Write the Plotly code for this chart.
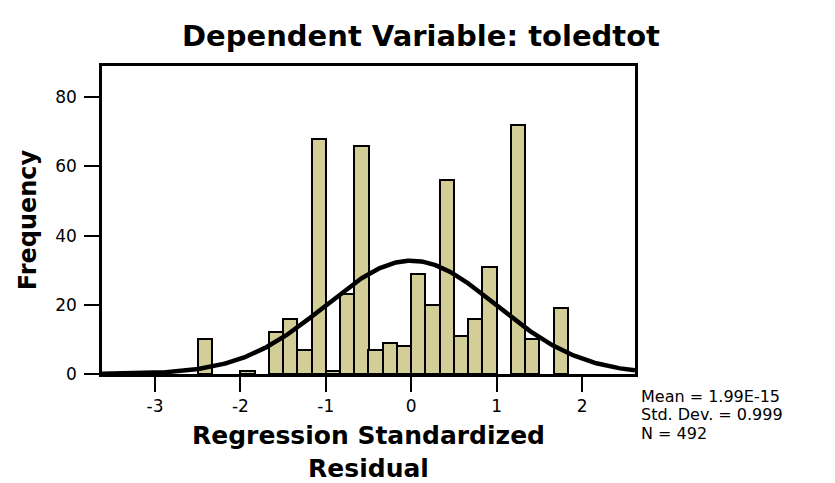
import numpy as np
import plotly.graph_objects as go

# ---- data ----
bin_centers = [-2.417, -1.917, -1.583, -1.417, -1.25, -1.083, -0.917, -0.75, -0.583,
               -0.417, -0.25, -0.083, 0.083, 0.25, 0.417, 0.583, 0.75, 0.917,
               1.25, 1.417, 1.75]
counts = [10, 1, 12, 16, 7, 68, 1, 23, 66,
          7, 9, 8, 29, 20, 56, 11, 16, 31,
          72, 10, 19]
bin_width = 1 / 6
stat_mean = 1.99e-15
stat_sd = 0.999
stat_n = 492
x_tickvals = [-3, -2, -1, 0, 1, 2]
x_ticktext = ["-3", "-2", "-1", "0", "1", "2"]
y_tickvals = [0, 20, 40, 60, 80]
stats_lines = ["Mean = 1.99E-15", "Std. Dev. = 0.999", "N = 492"]

# ---- layout constants ----
W, H = 835, 483
ML, MR, MT, MB = 102, 200, 66, 109
PW, PH = W - ML - MR, H - MT - MB
XR = [-3.62, 2.62]
YR = [0, 89]
FONT = "DejaVu Sans"


def px_to_paper(px, py):
    return (px - ML) / PW, (H - MB - py) / PH


# normal curve from the reported statistics
xc = np.linspace(XR[0], XR[1], 400)
yc = stat_n * bin_width * np.exp(-0.5 * ((xc - stat_mean) / stat_sd) ** 2) / (stat_sd * np.sqrt(2 * np.pi))

fig = go.Figure()
fig.add_trace(go.Bar(
    x=bin_centers, y=counts, width=bin_width,
    marker=dict(color="#D3CE97", line=dict(color="black", width=2)),
    showlegend=False, hoverinfo="x+y",
))
fig.add_trace(go.Scatter(
    x=xc, y=yc, mode="lines",
    line=dict(color="black", width=4.5),
    showlegend=False, hoverinfo="skip",
))

axis_common = dict(
    showline=True, linecolor="black", linewidth=2.5, mirror=True,
    ticks="outside", ticklen=15, tickwidth=2, tickcolor="black",
    showgrid=False, zeroline=False, automargin=False,
    tickfont=dict(family=FONT, size=17, color="black"),
)

fig.update_layout(
    width=W, height=H,
    margin=dict(l=ML, r=MR, t=MT, b=MB),
    paper_bgcolor="white", plot_bgcolor="white",
    bargap=0,
    xaxis=dict(range=XR, tickvals=x_tickvals, ticktext=x_ticktext,
               title=dict(text="Regression Standardized<br>Residual",
                          font=dict(family=FONT, size=25, color="black", weight="bold"),
                          standoff=12),
               **axis_common),
    yaxis=dict(range=YR, tickvals=y_tickvals, ticklabelstandoff=4,
               title=dict(text="Frequency",
                          font=dict(family=FONT, size=24, color="black", weight="bold"),
                          standoff=12),
               **axis_common),
    title=dict(text="Dependent Variable: toledtot",
               font=dict(family=FONT, size=29, color="black", weight="bold"),
               xref="container", yref="container",
               x=421 / W, y=1 - 36 / H, xanchor="center", yanchor="middle"),
)

stat_y_px = [396, 414.5, 433]
for line, py in zip(stats_lines, stat_y_px):
    ax, ay = px_to_paper(639, py)
    fig.add_annotation(text=line, xref="paper", yref="paper", x=ax, y=ay,
                       xanchor="left", yanchor="middle", showarrow=False,
                       font=dict(family=FONT, size=16, color="black"))

fig.write_html("out.html", config={"displayModeBar": False},
               post_script="document.body.style.margin='0px';")
